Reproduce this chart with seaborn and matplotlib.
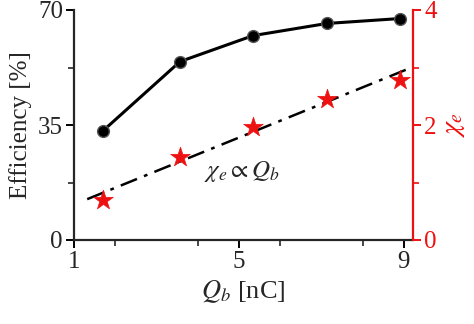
import matplotlib
matplotlib.use("Agg")
import matplotlib.pyplot as plt
from matplotlib.ticker import MultipleLocator
import seaborn as sns
import pandas as pd

sns.set_style("ticks")
plt.rcParams['font.family'] = ['Liberation Serif', 'DejaVu Serif']
plt.rcParams['mathtext.fontset'] = 'stix'

charge = [1.70, 3.57, 5.34, 7.13, 8.90]
efficiency = [33.2, 54.3, 62.2, 65.9, 67.4]
chi = [0.69, 1.44, 1.97, 2.46, 2.78]
fit_x = [1.32, 9.15]
fit_y = [0.71, 2.99]

df = pd.DataFrame({"Q": charge, "eff": efficiency, "chi": chi})
fit = pd.DataFrame({"Q": fit_x, "chi": fit_y})

red = "#ee1111"
fig = plt.figure(figsize=(4.74, 3.24), dpi=100)
ax = fig.add_axes([74/474, 1-240/324, (413-74)/474, 230/324])
ax2 = ax.twinx()

sns.lineplot(data=df, x="Q", y="eff", ax=ax, color="black", lw=2.2,
             marker="o", markersize=8.5, markerfacecolor="black",
             markeredgecolor="#555555", markeredgewidth=1.0, zorder=3)
sns.lineplot(data=fit, x="Q", y="chi", ax=ax2, color="black", lw=1.8,
             linestyle=(0, (7, 3, 1.5, 3)), zorder=2)
sns.scatterplot(data=df, x="Q", y="chi", ax=ax2, color=red, marker="*",
                s=220, edgecolor=red, linewidth=0.5, zorder=4)

ax.set_xlim(1, 9.22)
ax.set_ylim(0, 70)
ax2.set_ylim(0, 4)
ax.set_xticks([1, 5, 9])
ax.xaxis.set_minor_locator(MultipleLocator(2))
ax.set_yticks([0, 35, 70])
ax.yaxis.set_minor_locator(MultipleLocator(17.5))
ax2.set_yticks([0, 2, 4])
ax2.yaxis.set_minor_locator(MultipleLocator(1))

for a in (ax, ax2):
    a.spines['top'].set_visible(False)
    for s in a.spines.values():
        s.set_linewidth(1.6)
ax.spines['right'].set_visible(False)
ax2.spines['left'].set_visible(False)
ax2.spines['bottom'].set_visible(False)
ax2.spines['right'].set_color(red)

ax.tick_params(axis='both', which='major', labelsize=18, length=6, width=1.4,
               direction='out', color='black', pad=2)
ax.tick_params(axis='both', which='minor', length=4, width=1.2, direction='out')
ax2.tick_params(axis='y', which='major', labelsize=18, length=6, width=1.4,
                colors=red, pad=2)
ax2.tick_params(axis='y', which='minor', length=4, width=1.2, color=red)

ax.set_xlabel(r"$Q_b$ [nC]", fontsize=19, labelpad=4)
ax.set_ylabel("Efficiency [%]", fontsize=18, labelpad=4)
ax2.set_ylabel(r"$\chi_e$", fontsize=20, color=red, labelpad=4)

ax.text(4.15, 21.0, r"$\chi_e \propto Q_b$", fontsize=18, ha="left", va="center")

fig.savefig("out.png", dpi=100)
